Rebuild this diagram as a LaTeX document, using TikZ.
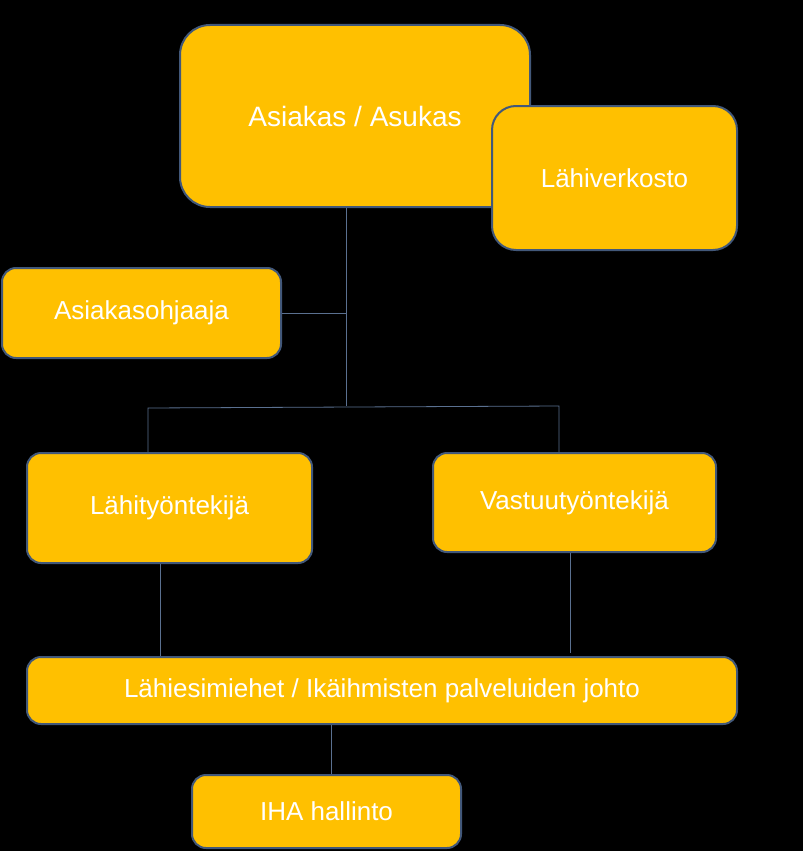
\documentclass[tikz,border=0pt]{standalone}
\usepackage{fontspec}
\setmainfont{Liberation Sans}
\begin{document}
\begin{tikzpicture}[x=1pt,y=-1pt,
  box/.style={draw=boxline,line width=2pt,fill=boxfill,rounded corners=14pt,text=white,font=\fontsize{26}{30}\selectfont},
  conn/.style={draw=connline,line width=0.8pt}]
\definecolor{boxfill}{HTML}{FFC000}
\definecolor{boxline}{HTML}{42587A}
\definecolor{connline}{HTML}{5A7090}
\fill[black] (0,0) rectangle (803,851);
\useasboundingbox (0,0) rectangle (803,851);
\node[box,rounded corners=30pt,minimum width=350pt,minimum height=182pt,font=\fontsize{28}{32}\selectfont] (a) at (355,116) {Asiakas / Asukas};
\node[box,rounded corners=24pt,minimum width=245pt,minimum height=144pt] (v) at (614.5,178) {Lähiverkosto};
\node[box,minimum width=279pt,minimum height=90pt] (o) at (141.5,313) {Asiakasohjaaja};
\node[box,minimum width=285pt,minimum height=110pt] (l) at (169.5,508) {Lähityöntekijä};
\node[box,minimum width=283pt,minimum height=99pt] (r) at (574.5,502.5) {Vastuutyöntekijä};
\node[box,minimum width=710pt,minimum height=67pt] (e) at (382,690.5) {Lähiesimiehet / Ikäihmisten palveluiden johto};
\node[box,minimum width=269pt,minimum height=73pt] (h) at (326.5,811.5) {IHA hallinto};
\coordinate (j) at (346,406);
\coordinate (jl) at (148,408);
\coordinate (jr) at (559,406);
\draw[conn] (a.south -| j) -- (j);
\draw[conn] (o.east) -- (o.east -| j);
\draw[conn] (l.north -| jl) -- (jl) -- (jr) -- (r.north -| jr);
\draw[conn] ([xshift=-9.5pt]l.south) -- ([xshift=-9.5pt]l.south |- e.north);
\draw[conn] ([xshift=-4.5pt]r.south) -- ([xshift=-4.5pt,yshift=3pt]r.south |- e.north);
\draw[conn] (e.south -| h.north) ++(4.5,0) -- ([xshift=4.5pt]h.north);
\end{tikzpicture}
\end{document}
